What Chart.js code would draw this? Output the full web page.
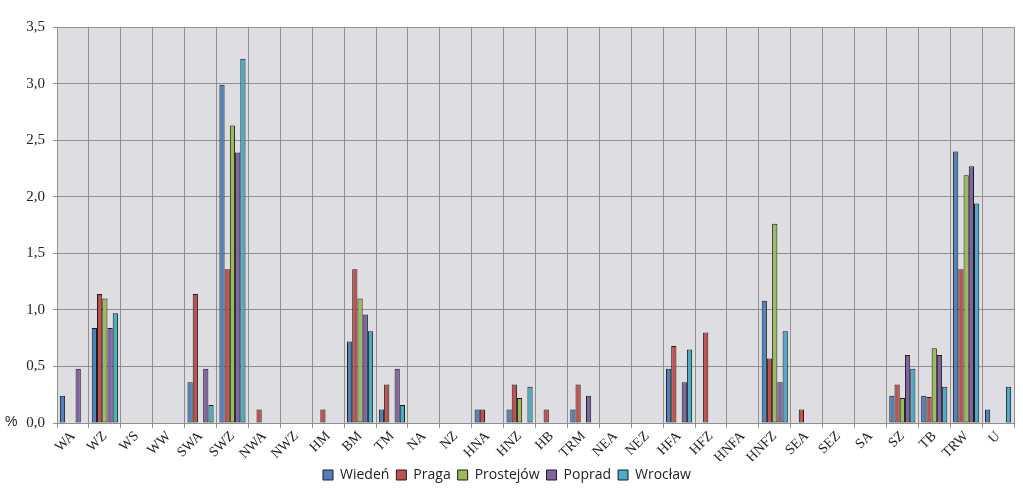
<!DOCTYPE html>
<html>
<head>
<meta charset="utf-8">
<script src="https://cdn.jsdelivr.net/npm/chart.js@4.4.1/dist/chart.umd.min.js"></script>
<style>
  html, body { margin: 0; padding: 0; background: #fff; }
</style>
</head>
<body>
<canvas id="typesChart" width="1023" height="496"></canvas>
<script>
// circulation types
const categories = ['WA', 'WZ', 'WS', 'WW', 'SWA', 'SWZ', 'NWA', 'NWZ', 'HM', 'BM', 'TM', 'NA', 'NZ', 'HNA', 'HNZ',
    'HB', 'TRM', 'NEA', 'NEZ', 'HFA', 'HFZ', 'HNFA', 'HNFZ', 'SEA', 'SEZ', 'SA', 'SZ', 'TB', 'TRW', 'U'];

// frequency in % per station
const wieden    = [0.24, 0.84, 0, 0, 0.36, 2.99, 0, 0, 0, 0.72, 0.12, 0, 0, 0.12, 0.12, 0, 0.12, 0, 0, 0.48, 0, 0, 1.08, 0, 0, 0, 0.24, 0.24, 2.40, 0.12];
const praga     = [0, 1.14, 0, 0, 1.14, 1.36, 0.12, 0, 0.12, 1.36, 0.34, 0, 0, 0.12, 0.34, 0.12, 0.34, 0, 0, 0.68, 0.80, 0, 0.57, 0.12, 0, 0, 0.34, 0.23, 1.36, 0];
const prostejow = [0, 1.10, 0, 0, 0, 2.63, 0, 0, 0, 1.10, 0, 0, 0, 0, 0.22, 0, 0, 0, 0, 0, 0, 0, 1.76, 0, 0, 0, 0.22, 0.66, 2.19, 0];
const poprad    = [0.48, 0.84, 0, 0, 0.48, 2.39, 0, 0, 0, 0.96, 0.48, 0, 0, 0, 0, 0, 0.24, 0, 0, 0.36, 0, 0, 0.36, 0, 0, 0, 0.60, 0.60, 2.27, 0];
const wroclaw   = [0, 0.97, 0, 0, 0.16, 3.22, 0, 0, 0, 0.81, 0.16, 0, 0, 0, 0.32, 0, 0, 0, 0, 0.65, 0, 0, 0.81, 0, 0, 0, 0.48, 0.32, 1.94, 0.32];

const yTicks = [0, 0.5, 1.0, 1.5, 2.0, 2.5, 3.0, 3.5];

const seriesNames = ['Wiedeń', 'Praga', 'Prostejów', 'Poprad', 'Wrocław'];
const seriesColors = ['#4F81BD', '#C0504D', '#9BBB59', '#8064A2', '#4BACC6'];

const gridColor = '#8f8f8f';

// grey plot area + the small "%" mark next to the zero tick
const plotBackground = {
    id: 'plotBackground',
    beforeDraw(chart) {
        const { ctx, chartArea } = chart;
        ctx.save();
        ctx.fillStyle = '#DEDEE2';
        ctx.fillRect(chartArea.left, chartArea.top, chartArea.right - chartArea.left, chartArea.bottom - chartArea.top);
        ctx.restore();
    },
    afterDraw(chart) {
        const { ctx } = chart;
        const y0 = chart.scales.y.getPixelForValue(0);
        ctx.save();
        ctx.font = '14px "Liberation Sans", Arial, sans-serif';
        ctx.fillStyle = '#222';
        ctx.textBaseline = 'middle';
        ctx.fillText('%', 5, y0 - 1);
        ctx.restore();
    }
};

const values = [wieden, praga, prostejow, poprad, wroclaw];

new Chart(document.getElementById('typesChart'), {
    type: 'bar',
    data: {
        labels: categories,
        datasets: values.map((arr, i) => ({
            label: seriesNames[i],
            data: arr.map(v => (v === 0 ? null : v)),
            backgroundColor: seriesColors[i],
            borderColor: '#1c1c1c',
            borderWidth: 1,
            borderSkipped: false,
            categoryPercentage: 0.82,
            barPercentage: 1.0
        }))
    },
    options: {
        responsive: false,
        animation: false,
        layout: {
            padding: { top: 27, right: 9, bottom: 4, left: 0 }
        },
        plugins: {
            legend: {
                display: true,
                position: 'bottom',
                labels: {
                    boxWidth: 10,
                    boxHeight: 10,
                    padding: 7,
                    color: '#222',
                    font: { family: '"Open Sans", Arial, sans-serif', size: 14 }
                }
            },
            tooltip: { enabled: false }
        },
        scales: {
            x: {
                grid: { color: gridColor, offset: true, tickLength: 5 },
                border: { color: gridColor },
                ticks: {
                    autoSkip: false,
                    minRotation: 45,
                    maxRotation: 45,
                    padding: 0,
                    color: '#222',
                    font: { family: '"Liberation Serif", "Times New Roman", serif', size: 14 }
                },
                afterFit(scale) { scale.height = 38; }
            },
            y: {
                min: 0,
                max: 3.5,
                afterBuildTicks(scale) { scale.ticks = yTicks.map(v => ({ value: v })); },
                grid: { color: gridColor, tickLength: 4 },
                border: { color: gridColor },
                ticks: {
                    padding: 8,
                    color: '#222',
                    font: { family: '"Liberation Serif", "Times New Roman", serif', size: 15 },
                    callback: v => v.toFixed(1).replace('.', ',')
                },
                afterFit(scale) { scale.width = 57; }
            }
        }
    },
    plugins: [plotBackground]
});
</script>
</body>
</html>
